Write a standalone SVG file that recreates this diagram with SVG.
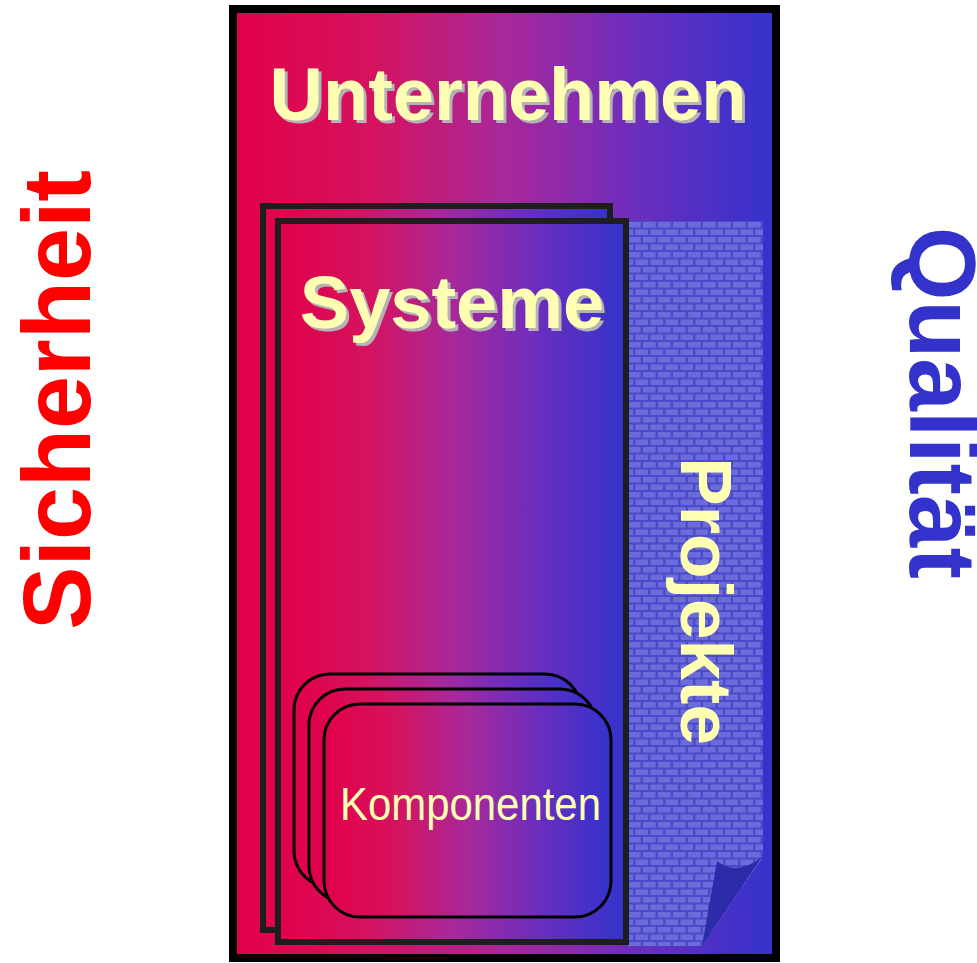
<svg xmlns="http://www.w3.org/2000/svg" width="977" height="963" viewBox="0 0 977 963">
  <defs>
    <linearGradient id="redBlue" x1="0" y1="0" x2="1" y2="0">
      <stop offset="0" stop-color="#e2004a"/>
      <stop offset="0.25" stop-color="#d6125e"/>
      <stop offset="0.5" stop-color="#a8289a"/>
      <stop offset="0.75" stop-color="#6a2ebe"/>
      <stop offset="1" stop-color="#3232cc"/>
    </linearGradient>
    <pattern id="bricks" patternUnits="userSpaceOnUse" x="627" y="221" width="15" height="15">
      <rect width="15" height="15" fill="#4a4acb"/>
      <rect x="1" y="1" width="12.5" height="5.5" fill="#6b6bd9"/>
      <rect x="-6.5" y="8.5" width="12.5" height="5.5" fill="#6b6bd9"/>
      <rect x="8.5" y="8.5" width="12.5" height="5.5" fill="#6b6bd9"/>
    </pattern>
    <!-- hard grey drop shadow for the titles -->
    <filter id="hardShadow" x="-5%" y="-10%" width="115%" height="130%">
      <feFlood flood-color="#b4b4b4" result="grey"/>
      <feComposite in="grey" in2="SourceAlpha" operator="in" result="shape"/>
      <feOffset in="shape" dx="3" dy="3" result="offset"/>
      <feMerge>
        <feMergeNode in="offset"/>
        <feMergeNode in="SourceGraphic"/>
      </feMerge>
    </filter>
  </defs>
  <style>
    .title { font-family: "Liberation Sans", Arial, sans-serif; font-weight: bold; fill: #ffffb4; }
    .shadowed { filter: url(#hardShadow); }
    .side { font-family: "Liberation Sans", Arial, sans-serif; font-weight: bold; }
    .card { stroke: #000; stroke-width: 3; fill: url(#redBlue); }
    .sheet { stroke: #1e1e1e; stroke-width: 6; fill: url(#redBlue); }
  </style>

  <rect width="977" height="963" fill="#ffffff"/>

  <!-- outer frame: company -->
  <g id="unternehmen">
    <rect x="233" y="9" width="543" height="949" fill="url(#redBlue)" stroke="#000" stroke-width="8"/>
    <text class="title shadowed" x="508" y="120" font-size="74" text-anchor="middle">Unternehmen</text>
  </g>

  <!-- brick-textured projects strip with turned-up corner -->
  <g id="projekte">
    <polygon points="626,221 763,221 763,857 702,946 626,946" fill="url(#bricks)"/>
    <path d="M717,861 Q736,877 762,857 L702,946 Z" fill="#2c2ca8"/>
    <text class="title" font-size="73" transform="translate(681,457) rotate(90)" textLength="288" lengthAdjust="spacingAndGlyphs">Projekte</text>
  </g>

  <!-- stacked system sheets -->
  <g id="systeme">
    <rect class="sheet" x="263" y="206" width="347" height="724"/>
    <rect class="sheet" x="278" y="221" width="348" height="721"/>
    <text class="title shadowed" x="452" y="328" font-size="74" text-anchor="middle">Systeme</text>
  </g>

  <!-- stacked component cards -->
  <g id="komponenten">
    <rect class="card" x="294" y="674" width="287" height="213" rx="36" ry="36"/>
    <rect class="card" x="309" y="689" width="287" height="213" rx="36" ry="36"/>
    <rect class="card" x="324" y="704" width="287" height="213" rx="36" ry="36"/>
    <text x="340" y="820" font-family="'Liberation Sans', Arial, sans-serif" font-size="46" fill="#ffffb4" textLength="261" lengthAdjust="spacingAndGlyphs">Komponenten</text>
  </g>

  <!-- side labels -->
  <g id="sicherheit">
    <text class="side" fill="#ff0000" font-size="96" transform="translate(90,630) rotate(-90)" textLength="460" lengthAdjust="spacingAndGlyphs">Sicherheit</text>
  </g>
  <g id="qualitaet">
    <text class="side" fill="#3333cc" font-size="95" transform="translate(910,227) rotate(90)" textLength="352" lengthAdjust="spacingAndGlyphs">Qualität</text>
  </g>

  <g id="connectors"/>
</svg>
